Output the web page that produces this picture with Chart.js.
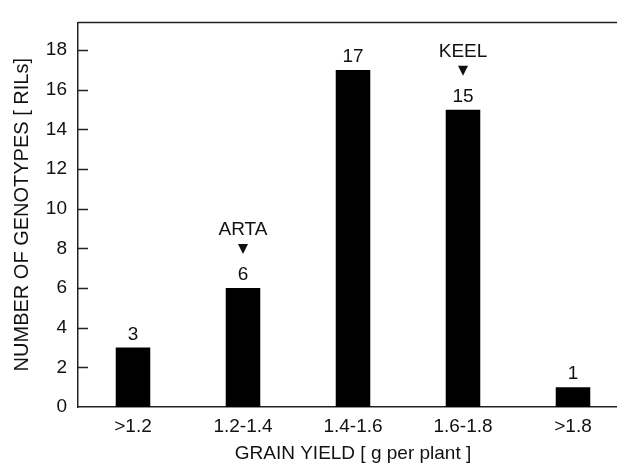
<!DOCTYPE html>
<html>
<head>
<meta charset="utf-8">
<script src="https://cdn.jsdelivr.net/npm/chart.js@4"></script>
<style>
  html, body { margin: 0; padding: 0; background: #fff; width: 617px; height: 463px; overflow: hidden; }
  canvas { display: block; }
</style>
</head>
<body>
<canvas id="yieldChart" width="640" height="463"></canvas>
<script>
// grain yield classes and how many RILs fall in each
const categories = [">1.2", "1.2-1.4", "1.4-1.6", "1.6-1.8", ">1.8"];
const genotypeCounts = [3, 6, 17, 15, 1];
// parents marked with an arrow above their class
const parentNames = ["", "ARTA", "", "KEEL", ""];
const yTicks = [0, 2, 4, 6, 8, 10, 12, 14, 16, 18];

const FONT = "'Liberation Sans', Arial, sans-serif";
const INK = "#111";

// inward ticks on the y axis + the top frame line
const framePlugin = {
  id: "frame",
  afterDraw(chart) {
    const ctx = chart.ctx;
    const area = chart.chartArea;
    const y = chart.scales.y;
    ctx.save();
    ctx.strokeStyle = "#222";
    ctx.lineWidth = 1.5;
    ctx.beginPath();
    ctx.moveTo(area.left, area.top);
    ctx.lineTo(chart.width, area.top);
    yTicks.forEach(function (v) {
      if (v === 0) return;
      const py = Math.round(y.getPixelForValue(v)) + 0.5;
      ctx.moveTo(area.left, py);
      ctx.lineTo(area.left + 10, py);
    });
    ctx.stroke();
    ctx.restore();
  },
};

// value labels and parent arrows over the bars
const barLabelPlugin = {
  id: "barLabels",
  afterDatasetsDraw(chart) {
    const ctx = chart.ctx;
    const meta = chart.getDatasetMeta(0);
    ctx.save();
    ctx.fillStyle = INK;
    ctx.textAlign = "center";
    ctx.textBaseline = "middle";
    ctx.font = "19px " + FONT;
    meta.data.forEach(function (bar, i) {
      ctx.fillText(String(genotypeCounts[i]), bar.x, bar.y - 13);
      if (parentNames[i]) {
        ctx.beginPath();
        ctx.moveTo(bar.x - 5, bar.y - 44);
        ctx.lineTo(bar.x + 5, bar.y - 44);
        ctx.lineTo(bar.x, bar.y - 34);
        ctx.closePath();
        ctx.fill();
        ctx.fillText(parentNames[i], bar.x, bar.y - 58);
      }
    });
    ctx.restore();
  },
};

new Chart(document.getElementById("yieldChart"), {
  type: "bar",
  data: {
    labels: categories,
    datasets: [
      {
        data: genotypeCounts,
        backgroundColor: "#000",
        borderWidth: 0,
        barPercentage: 0.314,
        categoryPercentage: 1,
      },
    ],
  },
  options: {
    responsive: false,
    animation: false,
    layout: { padding: { top: 15, right: 12, left: 0, bottom: 0 } },
    plugins: {
      legend: { display: false },
      tooltip: { enabled: false },
    },
    scales: {
      x: {
        grid: { display: false, drawTicks: false },
        border: { display: true, color: "#222", width: 1.5 },
        ticks: { color: INK, font: { family: FONT, size: 19 }, padding: 8, maxRotation: 0 },
        title: {
          display: true,
          text: "GRAIN YIELD [ g per plant ]",
          color: INK,
          font: { family: FONT, size: 19, lineHeight: 1 },
          padding: { top: 0, bottom: 0 },
        },
        afterFit(scale) {
          scale.height = 56;
        },
      },
      y: {
        min: 0,
        max: 19.4,
        grid: { display: false, drawTicks: false },
        border: { display: true, color: "#222", width: 1.5 },
        ticks: { color: INK, font: { family: FONT, size: 19 }, padding: 11 },
        afterBuildTicks(scale) {
          scale.ticks = yTicks.map(function (v) { return { value: v }; });
        },
        title: {
          display: true,
          text: "NUMBER OF GENOTYPES [ RILs]",
          color: INK,
          font: { family: FONT, size: 20 },
          padding: { top: 10, bottom: 0 },
        },
        afterFit(scale) {
          scale.width = 78;
        },
      },
    },
  },
  plugins: [framePlugin, barLabelPlugin],
});
</script>
</body>
</html>
